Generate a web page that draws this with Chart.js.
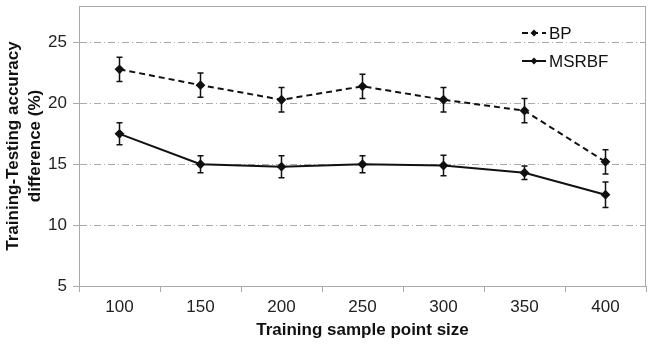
<!DOCTYPE html>
<html>
<head>
<meta charset="utf-8">
<script src="https://cdn.jsdelivr.net/npm/chart.js@4.4.0/dist/chart.umd.min.js"></script>
<style>
  html, body { margin: 0; padding: 0; background: #fff; }
  #wrap { width: 652px; height: 345px; }
</style>
</head>
<body>
<div id="wrap"><canvas id="c" width="652" height="345"></canvas></div>
<script>
const sampleSizes = ["100", "150", "200", "250", "300", "350", "400"];
const bpValues = [22.8, 21.5, 20.3, 21.4, 20.3, 19.4, 15.2];
const bpErrors = [1.0, 1.0, 1.0, 1.0, 1.0, 1.0, 1.0];
const msrbfValues = [17.5, 15.0, 14.8, 15.0, 14.9, 14.3, 12.5];
const msrbfErrors = [0.9, 0.7, 0.9, 0.7, 0.85, 0.55, 1.05];
const yTicks = [5, 10, 15, 20, 25];

const FONT = "'Liberation Sans', Arial, sans-serif";

// error bars with small caps
const errorBars = {
  id: "errorBars",
  afterDatasetsDraw(chart) {
    const ctx = chart.ctx;
    const y = chart.scales.y;
    const errs = [bpErrors, msrbfErrors];
    chart.data.datasets.forEach((ds, i) => {
      const meta = chart.getDatasetMeta(i);
      meta.data.forEach((pt, j) => {
        const v = ds.data[j], e = errs[i][j];
        const top = y.getPixelForValue(v + e), bot = y.getPixelForValue(v - e);
        ctx.save();
        ctx.strokeStyle = "#111";
        ctx.lineWidth = 1.5;
        ctx.beginPath();
        ctx.moveTo(pt.x, top); ctx.lineTo(pt.x, bot);
        ctx.moveTo(pt.x - 3, top); ctx.lineTo(pt.x + 3, top);
        ctx.moveTo(pt.x - 3, bot); ctx.lineTo(pt.x + 3, bot);
        ctx.stroke();
        ctx.restore();
      });
    });
  }
};

// grey box round the plot + legend inside the top right
const frameAndLegend = {
  id: "frameAndLegend",
  afterDraw(chart) {
    const ctx = chart.ctx;
    const a = chart.chartArea;
    ctx.save();
    ctx.strokeStyle = "#aaa";
    ctx.lineWidth = 1;
    ctx.strokeRect(a.left + 0.5, a.top + 0.5, a.right - a.left - 1, a.bottom - a.top);
    ctx.restore();

    const x0 = 522, rows = [33, 61];
    chart.data.datasets.forEach((ds, i) => {
      const yy = rows[i];
      ctx.save();
      ctx.strokeStyle = "#111";
      ctx.lineWidth = 2;
      ctx.setLineDash(ds.borderDash || []);
      ctx.beginPath();
      ctx.moveTo(x0, yy); ctx.lineTo(x0 + 24, yy);
      ctx.stroke();
      ctx.setLineDash([]);
      ctx.fillStyle = "#111";
      ctx.beginPath();
      ctx.moveTo(x0 + 12, yy - 3.5); ctx.lineTo(x0 + 15.5, yy);
      ctx.lineTo(x0 + 12, yy + 3.5); ctx.lineTo(x0 + 8.5, yy);
      ctx.closePath(); ctx.fill();
      ctx.font = "17px " + FONT;
      ctx.textBaseline = "middle";
      ctx.fillText(ds.label, x0 + 27, yy + 1);
      ctx.restore();
    });
  }
};

new Chart(document.getElementById("c"), {
  type: "line",
  data: {
    labels: sampleSizes,
    datasets: [
      {
        label: "BP",
        data: bpValues,
        borderColor: "#111",
        backgroundColor: "#111",
        borderWidth: 2,
        borderDash: [6, 4],
        pointStyle: "rectRot",
        pointRadius: 3.5,
        tension: 0
      },
      {
        label: "MSRBF",
        data: msrbfValues,
        borderColor: "#111",
        backgroundColor: "#111",
        borderWidth: 2,
        pointStyle: "rectRot",
        pointRadius: 3.5,
        tension: 0
      }
    ]
  },
  options: {
    responsive: false,
    animation: false,
    layout: { padding: { top: 5, right: 6, left: 0, bottom: 0 } },
    plugins: {
      legend: { display: false },
      tooltip: { enabled: false }
    },
    scales: {
      x: {
        offset: true,
        grid: {
          offset: true,
          drawOnChartArea: false,
          tickLength: 6,
          color: "#aaa"
        },
        border: { color: "#aaa" },
        ticks: { color: "#222", padding: 5, font: { family: FONT, size: 17 } },
        title: {
          display: true,
          text: "Training sample point size",
          color: "#111",
          padding: { top: 1, bottom: 4 },
          font: { family: FONT, size: 17, weight: "bold" }
        },
        afterFit(s) { s.height = 59; s.paddingLeft = 0; s.paddingRight = 0; }
      },
      y: {
        min: 5,
        max: 28,
        afterBuildTicks(s) { s.ticks = yTicks.map(v => ({ value: v })); },
        grid: {
          color: "#aaa",
          tickLength: 6,
          tickColor: "#aaa"
        },
        border: { color: "#aaa", dash: [7, 3, 1, 3] },
        ticks: { color: "#222", padding: 6, font: { family: FONT, size: 17 } },
        title: {
          display: true,
          text: ["Training-Testing accuracy", "difference (%)"],
          color: "#111",
          padding: { top: 2, bottom: 0 },
          font: { family: FONT, size: 17, weight: "bold", lineHeight: 1.3 }
        },
        afterFit(s) { s.width = 79; s.paddingTop = 0; s.paddingBottom = 0; }
      }
    }
  },
  plugins: [errorBars, frameAndLegend]
});
</script>
</body>
</html>
